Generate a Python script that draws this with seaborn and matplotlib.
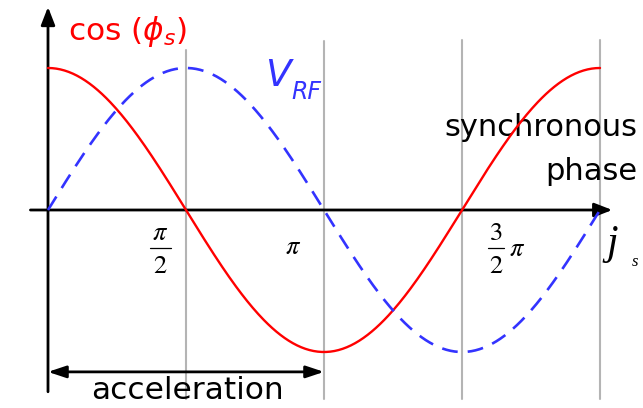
import numpy as np
import pandas as pd
import matplotlib
matplotlib.use("Agg")
import matplotlib.pyplot as plt
import seaborn as sns

# phase grid and the two waveforms
phase = np.linspace(0, 2 * np.pi, 400)
cos_amplitude = 1.0
vrf_amplitude = 1.0
tick_positions = [np.pi / 2, np.pi, 3 * np.pi / 2, 2 * np.pi]

df = pd.DataFrame({
    "phase": phase,
    "cos": cos_amplitude * np.cos(phase),
    "vrf": vrf_amplitude * np.sin(phase),
})

sns.set_theme(style="white")
plt.rcParams["font.family"] = ["DejaVu Sans"]
plt.rcParams["text.color"] = "black"
plt.rcParams["mathtext.fontset"] = "stix"

W, H = 643, 408
fig = plt.figure(figsize=(W / 100, H / 100), dpi=100)
ax = fig.add_axes([0, 0, 1, 1])
ax.set_axis_off()

# pixel layout: origin at (48, 210), 2*pi spans 552 px, unit amplitude 142 px
sx = 552 / (2 * np.pi)
sy = 142
ax.set_xlim(-48 / sx, (W - 48) / sx)
ax.set_ylim(-(H - 210) / sy, 210 / sy)


def px(x, y):
    """Convert a pixel position on the canvas to data coordinates."""
    return (x - 48) / sx, (210 - y) / sy


# grey guide lines at the quarter phases
for xt, top in zip(tick_positions, [1.13, 1.19, 1.20, 1.20]):
    ax.plot([xt, xt], [-1.33, top], color="#b4b4b4", lw=1.5, zorder=1)

# axes with arrow heads
ax.annotate("", xy=(0, 1.43), xytext=(0, -1.28),
            arrowprops=dict(arrowstyle="-|>,head_length=0.9,head_width=0.35",
                            color="black", lw=2, shrinkA=0, shrinkB=0),
            zorder=3)
ax.annotate("", xy=(2 * np.pi + 0.14, 0), xytext=(-0.2, 0),
            arrowprops=dict(arrowstyle="-|>,head_length=0.9,head_width=0.35",
                            color="black", lw=2, shrinkA=0, shrinkB=0),
            zorder=3)

sns.lineplot(data=df, x="phase", y="cos", ax=ax, color="#ff0000", lw=1.7,
             zorder=4, legend=False)
sns.lineplot(data=df, x="phase", y="vrf", ax=ax, color="#3333ff", lw=1.9,
             dashes=False, zorder=4, legend=False)
ax.lines[-1].set_dashes((6, 3.8))
ax.set_xlabel("")
ax.set_ylabel("")

# phase tick labels, written as stacked fractions
serif = dict(fontsize=19, ha="center", va="center", color="black")


def fraction(cx, num, den, x0, x1):
    ax.text(*px(cx, 233), f"${num}$", **serif)
    ax.plot([px(x0, 0)[0], px(x1, 0)[0]], [px(0, 248)[1]] * 2,
            color="black", lw=0.9)
    ax.text(*px(cx, 266), f"${den}$", **serif)


fraction(160, r"\pi", "2", 150, 171)
ax.text(*px(293, 247), r"$\pi$", **serif)
fraction(496, "3", "2", 488, 504)
ax.text(*px(517, 249), r"$\pi$", **serif)
ax.text(*px(612, 244), "j", fontsize=30, fontstyle="italic",
        family="Liberation Serif", ha="center", va="center", color="black")
ax.text(*px(635, 262), "s", fontsize=12, fontstyle="italic",
        family="Liberation Serif", ha="center", va="center", color="black")

# curve labels
ax.text(*px(68, 32), r"cos ($\phi_s$)", color="#ff0000", fontsize=22.5,
        ha="left", va="center", math_fontfamily="dejavusans")
ax.text(*px(265, 76), "V", color="#3333ff", fontsize=27,
        fontstyle="italic", ha="left", va="center")
ax.text(*px(291, 92), "RF", color="#3333ff", fontsize=17,
        fontstyle="italic", ha="left", va="center")
ax.text(*px(637, 128), "synchronous", fontsize=22, ha="right",
        va="center", color="black")
ax.text(*px(637, 172), "phase", fontsize=22, ha="right",
        va="center", color="black")

# acceleration range
ax.annotate("", xy=(0, -1.14), xytext=(np.pi, -1.14),
            arrowprops=dict(arrowstyle="<|-|>,head_length=0.9,head_width=0.3",
                            color="black", lw=2, shrinkA=0, shrinkB=0))
ax.text(np.pi / 2 + 0.02, -1.27, "acceleration", fontsize=22.5, ha="center",
        va="center", color="black")

fig.savefig("out.png", dpi=100)
